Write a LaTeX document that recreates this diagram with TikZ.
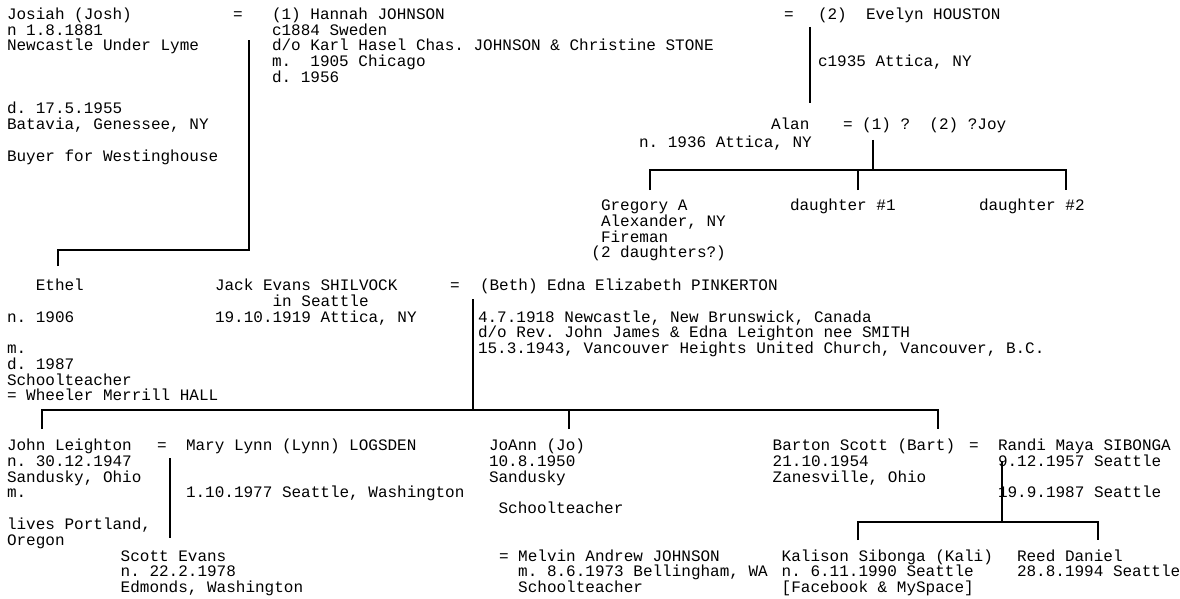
\documentclass[tikz,border=0pt]{standalone}
\usepackage{fontspec}
\setmainfont{Liberation Mono}
\frenchspacing
\newcommand\blk[1]{\vtop{\baselineskip=15.75pt\lineskiplimit=-100pt\lineskip=0pt\relax\let\\\cr\halign{##\hfil\cr#1\crcr}}}
\tikzset{
  txt/.style={anchor=base west, inner sep=0pt, outer sep=0pt, font=\fontsize{16}{15.75}\selectfont},
  famline/.style={line width=2.3pt, black}
}
\begin{document}
\begin{tikzpicture}[x=1pt,y=-1pt]
\useasboundingbox (0,0) rectangle (1180,599);
% ---------- generation 1 ----------
\node[txt] (josiah) at (7,19.5) {\blk{Josiah (Josh)\\n 1.8.1881\\Newcastle Under Lyme\\\\\\\\d. 17.5.1955\\Batavia, Genessee, NY\\\\Buyer for Westinghouse}};
\node[txt] (eqA) at (233,19.5) {=};
\node[txt] (hannah) at (272,19.5) {\blk{(1) Hannah JOHNSON\\c1884 Sweden\\d/o Karl Hasel Chas. JOHNSON \& Christine STONE\\m.\ \ 1905 Chicago\\d. 1956}};
\node[txt] (eqB) at (784,19.5) {=};
\node[txt] (evelyn) at (818,19.5) {(2)\ \ Evelyn HOUSTON};
\node[txt] (evmarr) at (818,66.5) {c1935 Attica, NY};
\coordinate (evTop) at (810,27);
\coordinate (evBot) at (810,103);
\draw[famline] (evTop) -- (evBot);
% Alan
\node[txt] (alan) at (771,129.5) {Alan};
\node[txt] (alanwives) at (843,129.5) {= (1) ?\ \ (2) ?Joy};
\node[txt] (alanborn) at (639,147) {n. 1936 Attica, NY};
\coordinate (alTop) at (873,140);
\coordinate (alBar) at (873,170);
\coordinate (grD) at (650,190);
\coordinate (d1D) at (858,190);
\coordinate (d2D) at (1066,190);
\draw[famline] (alTop) -- (alBar);
\draw[famline] (grD) |- (alBar) -| (d2D);
\draw[famline] (d1D) -- (d1D |- alBar);
\node[txt] (gregory) at (601,210.5) {\blk{Gregory A\\Alexander, NY\\Fireman\\\kern-9.6pt(2 daughters?)}};
\node[txt] (dau1) at (790,210.5) {daughter \#1};
\node[txt] (dau2) at (979,210.5) {daughter \#2};
% Josiah-Hannah children
\coordinate (jhTop) at (249,40);
\coordinate (jhBar) at (249,250);
\coordinate (etD) at (58,266);
\draw[famline] (etD) |- (jhBar) -- (jhTop);
% ---------- generation 2 ----------
\node[txt] (ethel) at (7,290.5) {\blk{\ \ \ Ethel\\\\n. 1906\\\\m.\\d. 1987\\Schoolteacher\\= Wheeler Merrill HALL}};
\node[txt] (jack) at (215,290.5) {\blk{Jack Evans SHILVOCK\\\ \ \ \ \ \ in Seattle\\19.10.1919 Attica, NY}};
\node[txt] (eqC) at (450,290.5) {=};
\node[txt] (beth) at (480,290.5) {(Beth) Edna Elizabeth PINKERTON};
\node[txt] (bethinfo) at (478,322) {\blk{4.7.1918 Newcastle, New Brunswick, Canada\\d/o Rev. John James \& Edna Leighton nee SMITH\\15.3.1943, Vancouver Heights United Church, Vancouver, B.C.}};
\coordinate (jbTop) at (473,299);
\coordinate (jbBar) at (473,410);
\coordinate (joD) at (42,429);
\coordinate (jaD) at (569,429);
\coordinate (baD) at (938,429);
\draw[famline] (jbTop) -- (jbBar);
\draw[famline] (joD) |- (jbBar) -| (baD);
\draw[famline] (jaD) -- (jaD |- jbBar);
% ---------- generation 3 ----------
\node[txt] (john) at (7,450.5) {\blk{John Leighton\\n. 30.12.1947\\Sandusky, Ohio\\m.\\\\lives Portland,\\Oregon}};
\node[txt] (eqD) at (157,450.5) {=};
\node[txt] (mary) at (186,450.5) {Mary Lynn (Lynn) LOGSDEN};
\node[txt] (jmmarr) at (186,497.8) {1.10.1977 Seattle, Washington};
\coordinate (jmTop) at (170,458);
\coordinate (jmBot) at (170,538);
\draw[famline] (jmTop) -- (jmBot);
\node[txt] (scott) at (120.7,561) {\blk{Scott Evans\\n. 22.2.1978\\Edmonds, Washington}};
\node[txt] (joann) at (489,450.5) {\blk{JoAnn (Jo)\\10.8.1950\\Sandusky\\\\\ Schoolteacher}};
\node[txt] (melvin) at (499,561) {\blk{= Melvin Andrew JOHNSON\\\ \ m. 8.6.1973 Bellingham, WA\\\ \ Schoolteacher}};
\node[txt] (barton) at (772.7,450.5) {\blk{Barton Scott (Bart)\\21.10.1954\\Zanesville, Ohio}};
\node[txt] (eqE) at (969,450.5) {=};
\node[txt] (randi) at (998,450.5) {\blk{Randi Maya SIBONGA\\9.12.1957 Seattle\\\\19.9.1987 Seattle}};
\coordinate (brTop) at (1002,461);
\coordinate (brBar) at (1002,522);
\coordinate (kaD) at (858,540);
\coordinate (reD) at (1098,540);
\draw[famline] (brTop) -- (brBar);
\draw[famline] (kaD) |- (brBar) -| (reD);
\node[txt] (kali) at (781.7,561) {\blk{Kalison Sibonga (Kali)\\n. 6.11.1990 Seattle\\[Facebook \& MySpace]}};
\node[txt] (reed) at (1017,561) {\blk{Reed Daniel\\28.8.1994 Seattle}};
\end{tikzpicture}
\end{document}
